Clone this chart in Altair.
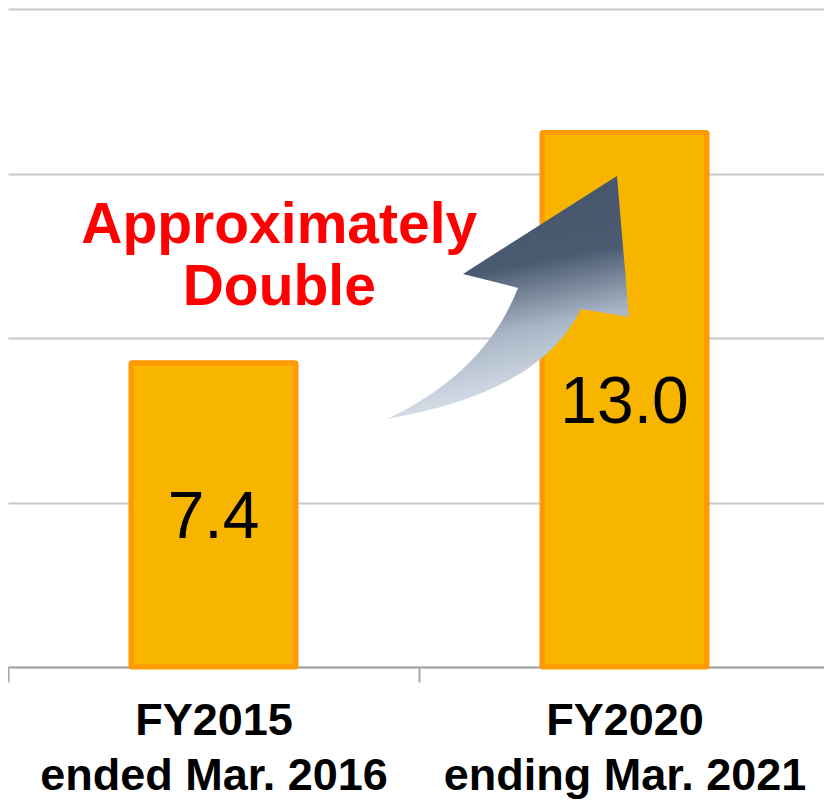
import altair as alt
import pandas as pd

# ---- data ----
categories = ["FY2015\nended Mar. 2016", "FY2020\nending Mar. 2021"]
values = [7.4, 13.0]
value_labels = ["7.4", "13.0"]

note_lines = ["Approximately", "Double"]
note_x = [0.66, 0.66]
note_y = [10.3, 8.8]

arrow_x = [1.2165]
arrow_y = [9.0]

bars_df = pd.DataFrame({"cat": categories, "value": values, "label": value_labels})
notes_df = pd.DataFrame({"text": note_lines, "x": note_x, "y": note_y})
arrow_df = pd.DataFrame({"x": arrow_x, "y": arrow_y})

FONT = "Liberation Sans"
PLOT_W = 814
X_RANGE = [0, 822]
Y_SCALE = alt.Scale(domain=[0, 16], nice=False)
Y_AXIS = alt.Axis(values=[0, 4, 8, 12, 16], labels=False, ticks=False, domain=False,
                  grid=True, gridColor="#C8C8C8", gridWidth=2, title=None)

x_enc = alt.X(
    "cat:N", sort=categories, title=None,
    scale=alt.Scale(paddingInner=0, paddingOuter=0, range=X_RANGE),
    axis=alt.Axis(
        labelExpr="split(datum.label, '\\n')", labelAngle=0, labelLimit=0,
        tickBand="extent", grid=False,
        domainColor="#A6A6A6", domainWidth=2,
        tickColor="#A6A6A6", tickWidth=2, tickSize=15,
        labelFont=FONT, labelFontSize=45, labelFontWeight="bold",
        labelColor="#000000", labelPadding=16, labelLineHeight=55,
    ),
)

bars = alt.Chart(bars_df).mark_bar(
    width=165, fill="#F8B500", stroke="#FF9900", strokeWidth=5, cornerRadius=1
).encode(
    x=x_enc,
    y=alt.Y("value:Q", scale=Y_SCALE, axis=Y_AXIS),
)

value_text = alt.Chart(bars_df).transform_calculate(
    mid="datum.value / 2"
).mark_text(
    font=FONT, fontSize=66, color="#000000", baseline="middle", align="center", dy=3
).encode(
    x=x_enc,
    y=alt.Y("mid:Q", scale=Y_SCALE, axis=Y_AXIS),
    text="label:N",
)

ARROW_PATH = ("M -0.968 0.976 Q -0.184 0.608 0.08 -0.072 L -0.36 -0.184 "
              "L 0.872 -0.968 L 0.968 0.16 L 0.584 0.096 Q 0.256 0.768 -0.968 0.976 Z")

gradient = alt.LinearGradient(
    gradient="linear",
    stops=[
        alt.GradientStop(color="#44546A", offset=0),
        alt.GradientStop(color="#4A5A70", offset=0.38),
        alt.GradientStop(color="#A9B6C6", offset=0.64),
        alt.GradientStop(color="#E8EEF5", offset=1),
    ],
    x1=0.4, y1=0, x2=0.6, y2=1,
)

ANN_X = alt.Scale(domain=[0, 2], nice=False, range=X_RANGE)

arrow = alt.Chart(arrow_df).mark_point(
    shape=ARROW_PATH, size=62500, filled=True, fill=gradient, opacity=1, strokeWidth=0
).encode(
    x=alt.X("x:Q", scale=ANN_X, axis=None),
    y=alt.Y("y:Q", scale=Y_SCALE, axis=Y_AXIS),
)

notes = alt.Chart(notes_df).mark_text(
    font=FONT, fontSize=57, fontWeight="bold", color="#FF0000",
    align="center", baseline="alphabetic"
).encode(
    x=alt.X("x:Q", scale=ANN_X, axis=None),
    y=alt.Y("y:Q", scale=Y_SCALE, axis=Y_AXIS),
    text="text:N",
)

base = alt.layer(bars, value_text)
annotations = alt.layer(arrow, notes)

chart = alt.layer(base, annotations).resolve_scale(
    x="independent"
).properties(
    width=PLOT_W, height=658,
    autosize=alt.AutoSizeParams(type="none"),
    padding={"left": 0, "top": 1, "right": 2, "bottom": 135},
    background="#FFFFFF",
).configure_view(strokeWidth=0)

chart.save("out.html", embed_options={"renderer": "svg", "actions": False})
